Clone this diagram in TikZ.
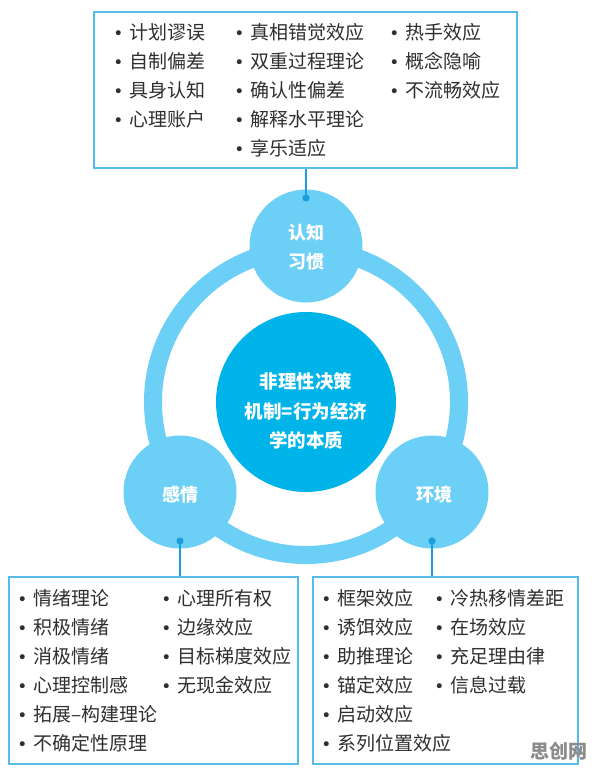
\documentclass[tikz,border=0pt]{standalone}
\usepackage{fontspec}
\newfontfamily\cjk{Noto Sans CJK SC}
\newfontfamily\dejavu{DejaVu Sans}
\definecolor{boxblue}{HTML}{55BDE8}
\definecolor{ringblue}{HTML}{6CCFF6}
\definecolor{corecyan}{HTML}{00B4EA}
\definecolor{linkblue}{HTML}{1E9FDD}
\definecolor{txt}{HTML}{2F2F2F}
\newcommand\bul{\llap{{\dejavu\fontsize{17}{17}\selectfont •}\hspace{5.8pt}}}
\tikzset{
  item/.style={font=\cjk\fontsize{19}{19}\selectfont, text=txt, anchor=base west, inner sep=0pt},
  listbox/.style={draw=boxblue, line width=1.8pt, inner sep=0pt},
  side/.style={circle, fill=ringblue, inner sep=0pt, minimum size=113pt},
  core/.style={circle, fill=corecyan, inner sep=0pt, minimum size=180pt},
  lbl/.style={font=\cjk\bfseries\fontsize{18}{29}\selectfont, text=white, align=center, inner sep=0pt},
  link/.style={draw=linkblue, line width=1.5pt},
  knob/.style={fill=linkblue}
}
\begin{document}
\begin{tikzpicture}[x=1pt,y=-1pt]
\fill[white] (0,0) rectangle (596,770);
\useasboundingbox (0,0) rectangle (596,770);
% ring
\draw[ringblue, line width=18pt] (306,402) circle (153);
% circles
\node[side] (cog) at (306,246) {};
\node[side] (emo) at (180,492) {};
\node[side] (env) at (432,492) {};
\node[core] (mid) at (306,402) {};
\node[lbl] (cogt) at (306,247.5) {认知\\习惯};
\node[lbl] (emot) at (180,495) {感情};
\node[lbl] (envt) at (434,495) {环境};
\node[lbl, font=\cjk\bfseries\fontsize{18.5}{29.5}\selectfont] (midt) at (306,411) {非理性决策\\机制=行为经济\\学的本质};
% boxes
\node[listbox, minimum width=423pt, minimum height=156pt] (topbox) at (305.5,90) {};
\node[listbox, minimum width=289pt, minimum height=187pt] (lbox) at (153.5,670.5) {};
\node[listbox, minimum width=265pt, minimum height=187pt] (rbox) at (445.5,670.5) {};
% connectors
\coordinate (d1) at (306,198);
\coordinate (d2) at (180,541);
\coordinate (d3) at (432,541);
\draw[link] (d1) -- (d1 |- topbox.south);
\draw[link] (d2) -- (d2 |- lbox.north);
\draw[link] (d3) -- (d3 |- rbox.north);
\fill[knob] (d1) circle (3.6);
\fill[knob] (d2) circle (3.6);
\fill[knob] (d3) circle (3.6);
% top list
\foreach \t [count=\i] in {计划谬误,自制偏差,具身认知,心理账户}
  \node[item] (ta\i) at (129,{39.2+29*(\i-1)}) {\bul\t};
\foreach \t [count=\i] in {真相错觉效应,双重过程理论,确认性偏差,解释水平理论,享乐适应}
  \node[item] (tb\i) at (250,{39.2+29*(\i-1)}) {\bul\t};
\foreach \t [count=\i] in {热手效应,概念隐喻,不流畅效应}
  \node[item] (tc\i) at (405,{39.2+29*(\i-1)}) {\bul\t};
% left list
\foreach \t [count=\i] in {情绪理论,积极情绪,消极情绪,心理控制感,拓展–构建理论,不确定性原理}
  \node[item] (la\i) at (33,{605.2+29*(\i-1)}) {\bul\t};
\foreach \t [count=\i] in {心理所有权,边缘效应,目标梯度效应,无现金效应}
  \node[item] (lb\i) at (177,{605.2+29*(\i-1)}) {\bul\t};
% right list
\foreach \t [count=\i] in {框架效应,诱饵效应,助推理论,锚定效应,启动效应,系列位置效应}
  \node[item] (ra\i) at (337,{605.2+29*(\i-1)}) {\bul\t};
\foreach \t [count=\i] in {冷热移情差距,在场效应,充足理由律,信息过载}
  \node[item] (rb\i) at (450,{605.2+29*(\i-1)}) {\bul\t};
% watermark
\node[font=\cjk\bfseries\fontsize{19}{19}\selectfont, text=black!45, inner sep=0pt] (wm) at (559,751) {思创网};
\end{tikzpicture}
\end{document}
